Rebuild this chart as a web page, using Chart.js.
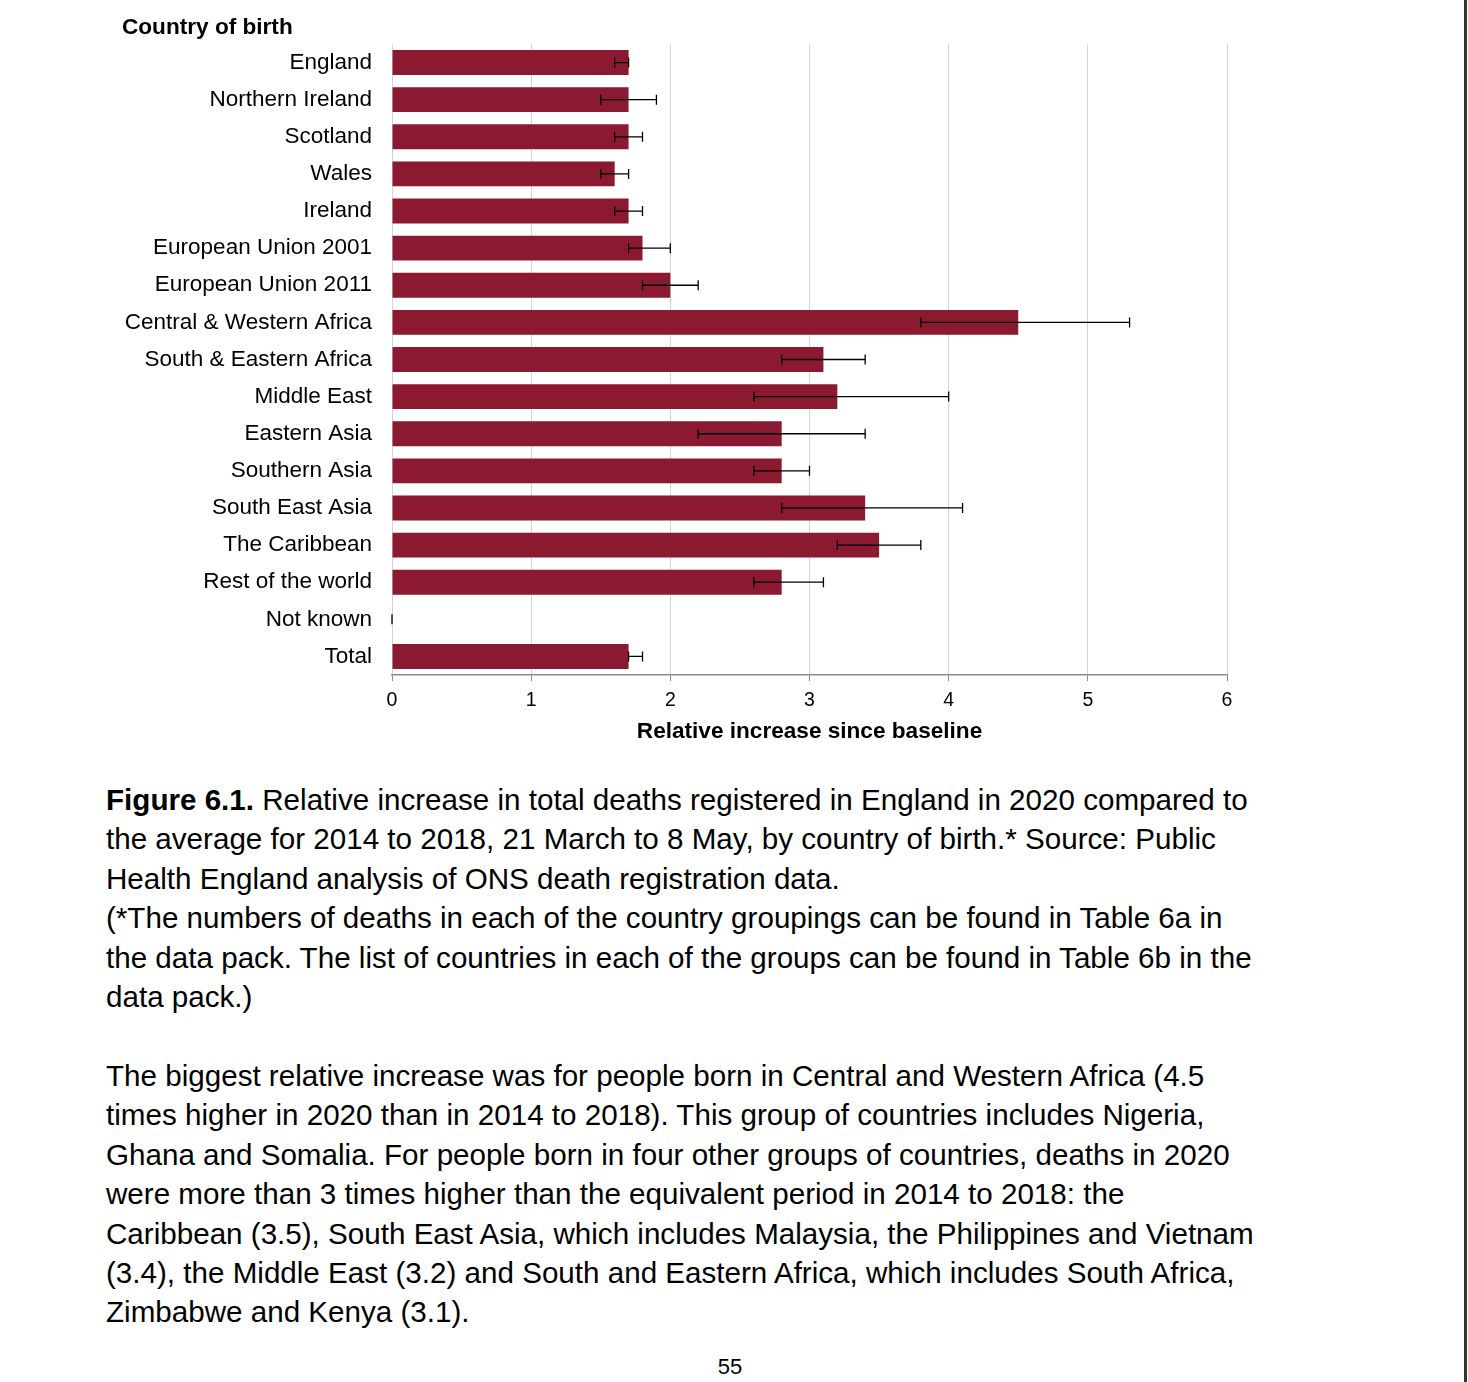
<!DOCTYPE html>
<html>
<head>
<meta charset="utf-8">
<script src="https://cdn.jsdelivr.net/npm/chart.js@4.4.0/dist/chart.umd.min.js"></script>
<style>
  body { margin: 0; width: 1468px; height: 1382px; background: #fff; position: relative; overflow: hidden;
         font-family: "Liberation Sans", Arial, sans-serif; color: #000; }
  #chartBox { position: absolute; left: 0; top: 0; width: 1468px; height: 760px; }
  #yTitle { position: absolute; left: 122px; top: 14px; font-weight: bold; font-size: 22.6px; }
  .text { position: absolute; left: 106px; font-size: 29.6px; line-height: 39.4px; white-space: nowrap; }
  #pageNum { position: absolute; left: 0; width: 1460px; text-align: center; top: 1354px; font-size: 22px; }
  #edge { position: absolute; left: 1464px; top: 0; width: 3px; height: 1382px; background: #333; }
</style>
</head>
<body>
<div id="chartBox"><canvas id="chart" width="1468" height="760"></canvas></div>
<div id="yTitle">Country of birth</div>

<div class="text" style="top:780px">
<b>Figure 6.1.</b> Relative increase in total deaths registered in England in 2020 compared to<br>
the average for 2014 to 2018, 21 March to 8 May, by country of birth.* Source: Public<br>
Health England analysis of ONS death registration data.<br>
(*The numbers of deaths in each of the country groupings can be found in Table 6a in<br>
the data pack. The list of countries in each of the groups can be found in Table 6b in the<br>
data pack.)
</div>

<div class="text" style="top:1056px">
The biggest relative increase was for people born in Central and Western Africa (4.5<br>
times higher in 2020 than in 2014 to 2018). This group of countries includes Nigeria,<br>
Ghana and Somalia. For people born in four other groups of countries, deaths in 2020<br>
were more than 3 times higher than the equivalent period in 2014 to 2018: the<br>
Caribbean (3.5), South East Asia, which includes Malaysia, the Philippines and Vietnam<br>
(3.4), the Middle East (3.2) and South and Eastern Africa, which includes South Africa,<br>
Zimbabwe and Kenya (3.1).
</div>

<div id="pageNum">55</div>
<div id="edge"></div>

<script>
const countries = [
  "England", "Northern Ireland", "Scotland", "Wales", "Ireland",
  "European Union 2001", "European Union 2011", "Central & Western Africa",
  "South & Eastern Africa", "Middle East", "Eastern Asia", "Southern Asia",
  "South East Asia", "The Caribbean", "Rest of the world", "Not known", "Total"
];
const relIncrease = [1.7, 1.7, 1.7, 1.6, 1.7, 1.8, 2.0, 4.5, 3.1, 3.2, 2.8, 2.8, 3.4, 3.5, 2.8, 0, 1.7];
const ciLow  = [1.6, 1.5, 1.6, 1.5, 1.6, 1.7, 1.8, 3.8, 2.8, 2.6, 2.2, 2.6, 2.8, 3.2, 2.6, 0, 1.7];
const ciHigh = [1.7, 1.9, 1.8, 1.7, 1.8, 2.0, 2.2, 5.3, 3.4, 4.0, 3.4, 3.0, 4.1, 3.8, 3.1, 0, 1.8];
const xTicks = [0, 1, 2, 3, 4, 5, 6];

// draw confidence intervals on top of the bars
const errorBars = {
  id: "errorBars",
  afterDatasetsDraw(chart) {
    const ctx = chart.ctx;
    const xs = chart.scales.x;
    const meta = chart.getDatasetMeta(0);
    ctx.save();
    ctx.strokeStyle = "#000";
    ctx.lineWidth = 1.3;
    meta.data.forEach((bar, i) => {
      const x1 = xs.getPixelForValue(ciLow[i]);
      const x2 = xs.getPixelForValue(ciHigh[i]);
      const y = bar.y;
      ctx.beginPath();
      ctx.moveTo(x1, y); ctx.lineTo(x2, y);
      ctx.moveTo(x1, y - 5); ctx.lineTo(x1, y + 5);
      ctx.moveTo(x2, y - 5); ctx.lineTo(x2, y + 5);
      ctx.stroke();
    });
    ctx.restore();
  }
};

const font = "'Liberation Sans', Arial, sans-serif";

new Chart(document.getElementById("chart"), {
  type: "bar",
  data: {
    labels: countries,
    datasets: [{
      data: relIncrease,
      backgroundColor: "#8B1A30",
      barPercentage: 0.67,
      categoryPercentage: 1
    }]
  },
  options: {
    indexAxis: "y",
    responsive: false,
    animation: false,
    layout: { padding: { top: 44, right: 241, left: 0, bottom: 0 } },
    plugins: { legend: { display: false }, tooltip: { enabled: false } },
    scales: {
      y: {
        afterFit: s => { s.width = 392; },
        grid: { display: false, drawTicks: false },
        border: { display: false },
        ticks: { color: "#000", padding: 20, font: { family: font, size: 22.5 } }
      },
      x: {
        min: 0, max: 6,
        afterFit: s => { s.height = 85; },
        afterBuildTicks: s => { s.ticks = xTicks.map(v => ({ value: v })); },
        grid: { color: "#d4d4d4", tickColor: "#888", tickLength: 6, lineWidth: 1 },
        border: { color: "#8a8a8a", width: 1.5 },
        ticks: { color: "#000", padding: 8, font: { family: font, size: 19.5 } },
        title: {
          display: true, text: "Relative increase since baseline", color: "#000",
          font: { family: font, size: 22.6, weight: "bold" }, padding: { top: 6, bottom: 15 }
        }
      }
    }
  },
  plugins: [errorBars]
});
</script>
</body>
</html>
